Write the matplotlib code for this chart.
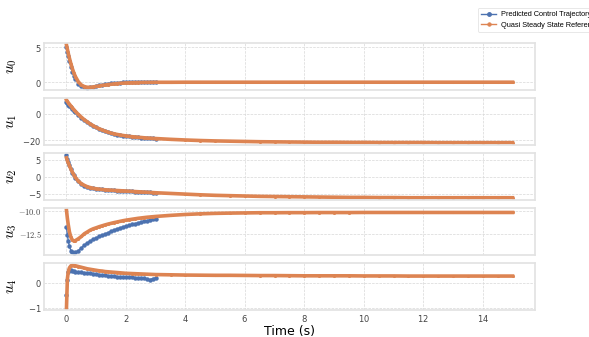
"""Predicted control trajectory vs quasi steady state reference."""

import matplotlib

matplotlib.use("Agg")
import matplotlib.pyplot as plt
import numpy as np

# time grids (s)
t_pred = [0, 0.03, 0.06, 0.1, 0.15, 0.2, 0.25, 0.3, 0.4, 0.5, 0.6, 0.7, 0.8, 0.9, 1.0,
          1.1, 1.2, 1.3, 1.4, 1.5, 1.6, 1.7, 1.8, 1.9, 2.0, 2.1, 2.2, 2.3, 2.4, 2.5,
          2.6, 2.7, 2.8, 2.9, 3.0]
t_tail = [3.5, 4.0, 4.5, 5.0, 5.5, 6.0, 6.5, 7.0, 7.5, 8.0, 8.5, 9.0, 9.5, 10.0,
          10.5, 11.0, 11.5, 12.0, 12.5, 13.0, 13.5, 14.0, 14.5, 15.0]
t_ref = t_pred + t_tail

# predicted control trajectory (0-3 s)
u0_pred = [5.0, 4.3, 3.7, 3.0, 2.2, 1.5, 0.95, 0.5, -0.2, -0.55, -0.72, -0.76, -0.72, -0.64, -0.55,
           -0.46, -0.37, -0.3, -0.23, -0.17, -0.12, -0.08, -0.05, -0.03, -0.01, 0.0, 0.01, 0.02, 0.02, 0.03,
           0.03, 0.03, 0.03, 0.03, 0.03]
u1_pred = [8.5, 7.7, 6.9, 5.9, 4.7, 3.5, 2.3, 1.1, -1.1, -3.0, -4.8, -6.4, -7.9, -9.2, -10.4,
           -11.5, -12.4, -13.3, -14.1, -14.7, -15.3, -15.8, -16.2, -16.6, -16.9, -17.2, -17.4, -17.7, -17.9, -18.1,
           -18.3, -18.4, -18.6, -18.7, -18.9]
u2_pred = [6.3, 5.2, 4.3, 3.3, 2.2, 1.2, 0.4, -0.3, -1.35, -2.05, -2.55, -2.9, -3.15, -3.35, -3.5,
           -3.6, -3.7, -3.78, -3.85, -3.9, -3.95, -4.0, -4.05, -4.1, -4.15, -4.2, -4.25, -4.3, -4.35, -4.4,
           -4.45, -4.5, -4.55, -4.6, -4.65]
u3_pred = [-11.8, -12.6, -13.3, -13.9, -14.35, -14.55, -14.6, -14.55, -14.35, -14.05, -13.75, -13.5, -13.3, -13.1, -12.94,
           -12.8, -12.66, -12.52, -12.38, -12.2, -12.08, -11.96, -11.85, -11.75, -11.65, -11.56, -11.47, -11.38, -11.3, -11.22,
           -11.14, -11.06, -10.99, -10.92, -10.86]
u4_pred = [-0.48, 0.13, 0.42, 0.52, 0.5, 0.48, 0.46, 0.45, 0.44, 0.42, 0.41, 0.39, 0.38, 0.37, 0.36,
           0.33, 0.31, 0.32, 0.28, 0.27, 0.28, 0.25, 0.24, 0.25, 0.23, 0.22, 0.23, 0.21, 0.2, 0.21,
           0.18, 0.15, 0.13, 0.17, 0.2]

# quasi steady state reference (0-15 s)
u0_ref = [5.3, 4.7, 4.1, 3.4, 2.6, 1.9, 1.3, 0.8, 0.05, -0.4, -0.62, -0.72, -0.72, -0.67, -0.6,
          -0.53, -0.46, -0.4, -0.34, -0.29, -0.24, -0.2, -0.16, -0.13, -0.1, -0.09, -0.07, -0.06, -0.05, -0.04,
          -0.03, -0.03, -0.02, -0.02, -0.01,
          -0.01, 0.0, 0.0, 0.0, 0.0, 0.0, 0.0, 0.0, 0.0, 0.0, 0.0, 0.0, 0.0, 0.0,
          0.0, 0.0, 0.0, 0.0, 0.0, 0.0, 0.0, 0.0, 0.0, 0.0]
u1_ref = [10.3, 9.3, 8.3, 7.1, 5.7, 4.3, 3.0, 1.7, -0.6, -2.7, -4.6, -6.2, -7.8, -9.1, -10.4,
          -11.4, -12.3, -13.2, -14.0, -14.7, -15.2, -15.7, -16.1, -16.5, -16.8, -17.1, -17.4, -17.6, -17.8, -18.0,
          -18.2, -18.4, -18.5, -18.7, -18.8,
          -19.4, -19.9, -20.3, -20.6, -20.8, -21.0, -21.2, -21.3, -21.4, -21.5, -21.6, -21.6, -21.7, -21.7,
          -21.8, -21.8, -21.8, -21.8, -21.9, -21.9, -21.9, -21.9, -21.9, -21.9]
u2_ref = [5.5, 4.7, 4.0, 3.2, 2.2, 1.3, 0.5, -0.2, -1.3, -2.0, -2.5, -2.9, -3.15, -3.35, -3.5,
          -3.6, -3.7, -3.78, -3.85, -3.9, -3.95, -4.0, -4.05, -4.1, -4.15, -4.2, -4.25, -4.3, -4.35, -4.4,
          -4.45, -4.5, -4.55, -4.6, -4.65,
          -4.85, -5.05, -5.25, -5.4, -5.5, -5.6, -5.7, -5.75, -5.8, -5.85, -5.9, -5.95, -6.0, -6.0,
          -6.05, -6.05, -6.1, -6.1, -6.1, -6.1, -6.1, -6.1, -6.1, -6.1]
u3_ref = [-9.9, -10.8, -11.5, -12.3, -12.9, -13.2, -13.3, -13.25, -13.05, -12.8, -12.5, -12.3, -12.1, -11.95, -11.84,
          -11.72, -11.62, -11.52, -11.43, -11.35, -11.27, -11.2, -11.13, -11.06, -11.0, -10.95, -10.9, -10.85, -10.8, -10.76,
          -10.72, -10.68, -10.65, -10.62, -10.59,
          -10.47, -10.37, -10.3, -10.25, -10.22, -10.2, -10.18, -10.18, -10.17, -10.17, -10.16, -10.16, -10.16, -10.15,
          -10.15, -10.15, -10.15, -10.15, -10.15, -10.15, -10.15, -10.15, -10.15, -10.15]
u4_ref = [-1.0, 0.15, 0.45, 0.6, 0.68, 0.7, 0.69, 0.68, 0.65, 0.62, 0.59, 0.56, 0.54, 0.52, 0.5,
          0.48, 0.47, 0.45, 0.44, 0.43, 0.42, 0.41, 0.4, 0.39, 0.38, 0.375, 0.37, 0.365, 0.36, 0.355,
          0.35, 0.345, 0.34, 0.335, 0.33,
          0.32, 0.31, 0.305, 0.3, 0.3, 0.295, 0.29, 0.29, 0.285, 0.28, 0.28, 0.28, 0.28, 0.275,
          0.275, 0.275, 0.27, 0.27, 0.27, 0.27, 0.27, 0.27, 0.27, 0.27]

pred = [u0_pred, u1_pred, u2_pred, u3_pred, u4_pred]
ref = [u0_ref, u1_ref, u2_ref, u3_ref, u4_ref]
y_ticks = [[0, 5], [-20, 0], [-5, 0, 5], [-12.5, -10.0], [-1, 0]]

plt.rcParams["mathtext.fontset"] = "cm"
plt.rcParams["axes.formatter.use_mathtext"] = True

BLUE = "#4c72b0"
ORANGE = "#dd8452"

fig, axes = plt.subplots(5, 1, figsize=(5.89, 3.37), dpi=100, sharex=True)
fig.subplots_adjust(left=0.075, right=0.908, top=0.873, bottom=0.080, hspace=0.175)

for i, ax in enumerate(axes):
    ax.plot(t_pred, pred[i], color=BLUE, marker="o", markersize=2.2, linewidth=1.0,
            label="Predicted Control Trajectory")
    ax.plot(t_ref, ref[i], color=ORANGE, marker="o", markersize=1.6, markeredgewidth=0.6,
            linewidth=2.6, label="Quasi Steady State Reference")
    ax.set_yticks(y_ticks[i])
    if i == 3:
        ax.set_yticklabels(["$-12.5$", "$-10.0$"])
    ax.set_ylabel(f"$u_{i}$", fontsize=11)
    ax.yaxis.set_label_coords(-0.052, 0.5)
    ax.grid(True, linestyle="--", linewidth=0.5, color="#d8d8d8")
    ax.tick_params(length=0, labelsize=6, pad=2, colors="#444444")
    for spine in ax.spines.values():
        spine.set_color("#e2e2e2")
        spine.set_linewidth(1.2)

axes[-1].set_xticks([0, 2, 4, 6, 8, 10, 12, 14])
axes[-1].set_xlabel("Time (s)", fontsize=9, labelpad=1)

handles, labels = axes[0].get_legend_handles_labels()
leg = fig.legend(handles, labels, loc="upper left", bbox_to_anchor=(474 / 589, 1 - 4 / 337),
                 frameon=True, borderpad=0.45, handlelength=2.1,
                 labelspacing=0.45, handletextpad=0.6,
                 prop={"family": "Liberation Sans", "size": 5.3})
for h in leg.legend_handles:
    h.set_linewidth(1.0)
    h.set_markersize(2.5)
leg.get_frame().set_edgecolor("#dddddd")
leg.get_frame().set_linewidth(0.6)

fig.savefig("out.png", dpi=100)
